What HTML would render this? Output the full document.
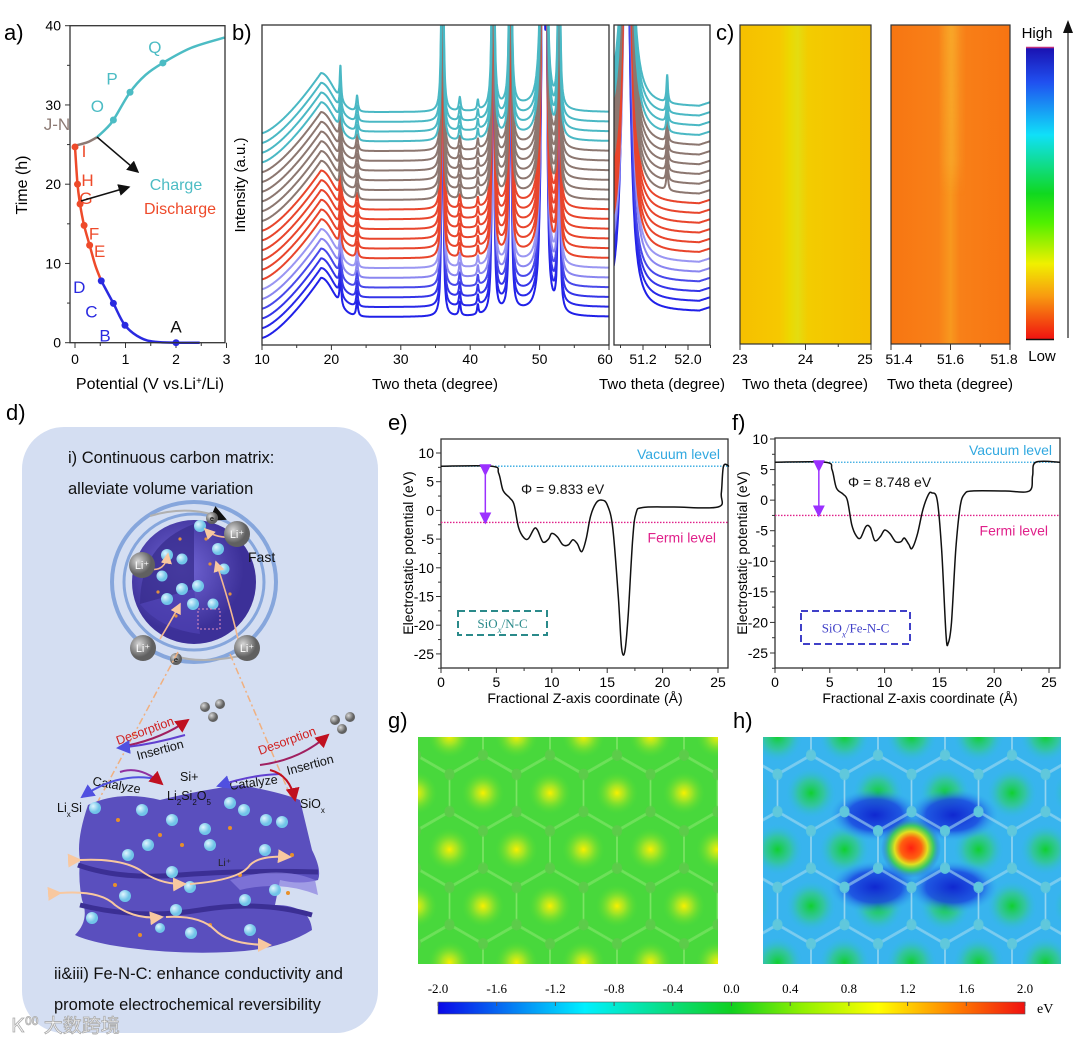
<!DOCTYPE html>
<html><head><meta charset="utf-8">
<style>
html,body{margin:0;padding:0;background:#fff;}
svg{display:block;font-family:"Liberation Sans",Arial,sans-serif;}
</style></head>
<body>
<svg id="fig" width="1080" height="1045" viewBox="0 0 1080 1045" xmlns="http://www.w3.org/2000/svg">
<defs>
  <clipPath id="clipB1"><rect x="262" y="25" width="347" height="320"/></clipPath>
  <clipPath id="clipB2"><rect x="614" y="25" width="96" height="320"/></clipPath>
  <linearGradient id="hm1" x1="0" x2="1" y1="0" y2="0">
    <stop offset="0" stop-color="#f5c000"/><stop offset="0.3" stop-color="#f6c800"/>
    <stop offset="0.38" stop-color="#ecd800"/><stop offset="0.44" stop-color="#e4dc10"/>
    <stop offset="0.52" stop-color="#f3cc00"/><stop offset="1" stop-color="#f5bf00"/>
  </linearGradient>
  <linearGradient id="hm2" x1="0" x2="1" y1="0" y2="0">
    <stop offset="0" stop-color="#f77612"/><stop offset="0.4" stop-color="#f88018"/>
    <stop offset="0.5" stop-color="#f8981e"/><stop offset="0.58" stop-color="#f88018"/>
    <stop offset="1" stop-color="#f77412"/>
  </linearGradient>
  <linearGradient id="stripeG" x1="0" x2="0" y1="0" y2="1">
    <stop offset="0" stop-color="#f8b030" stop-opacity="0.6"/><stop offset="0.8" stop-color="#f8b030" stop-opacity="0.5"/><stop offset="1" stop-color="#f8b030" stop-opacity="0"/>
  </linearGradient>
  <linearGradient id="stripeH" x1="0" x2="1" y1="0" y2="0">
    <stop offset="0" stop-color="#fff" stop-opacity="0"/><stop offset="0.5" stop-color="#fff" stop-opacity="1"/><stop offset="1" stop-color="#fff" stop-opacity="0"/>
  </linearGradient>
  <mask id="stripeMask"><rect x="938" y="25" width="28" height="200" fill="url(#stripeH)"/></mask>
  <linearGradient id="cbarV" x1="0" x2="0" y1="0" y2="1">
    <stop offset="0" stop-color="#1a10b0"/><stop offset="0.12" stop-color="#2050f0"/>
    <stop offset="0.3" stop-color="#10e0f8"/><stop offset="0.5" stop-color="#10d820"/>
    <stop offset="0.6" stop-color="#50f000"/><stop offset="0.74" stop-color="#f0f000"/>
    <stop offset="0.85" stop-color="#f89a10"/><stop offset="1" stop-color="#f01010"/>
  </linearGradient>
  <linearGradient id="cbarH" x1="0" x2="1" y1="0" y2="0">
    <stop offset="0" stop-color="#0a08e8"/><stop offset="0.25" stop-color="#00f0ff"/>
    <stop offset="0.5" stop-color="#10d020"/><stop offset="0.62" stop-color="#90f000"/>
    <stop offset="0.75" stop-color="#ffff00"/><stop offset="0.88" stop-color="#ff8000"/>
    <stop offset="1" stop-color="#f01010"/>
  </linearGradient>
  <radialGradient id="ySpot"><stop offset="0" stop-color="#f8f000"/><stop offset="0.35" stop-color="#b8e820" stop-opacity="0.8"/><stop offset="1" stop-color="#48dc38" stop-opacity="0"/></radialGradient>
  <radialGradient id="gSpot"><stop offset="0" stop-color="#10d030"/><stop offset="0.5" stop-color="#30cc80" stop-opacity="0.7"/><stop offset="1" stop-color="#30b8f0" stop-opacity="0"/></radialGradient>
  <radialGradient id="rSpot"><stop offset="0" stop-color="#ff2010"/><stop offset="0.35" stop-color="#ff6010"/><stop offset="0.55" stop-color="#e0e020"/><stop offset="0.75" stop-color="#40d040" stop-opacity="0.8"/><stop offset="1" stop-color="#2050e0" stop-opacity="0"/></radialGradient>
  <radialGradient id="bSpot"><stop offset="0" stop-color="#1028d0"/><stop offset="0.6" stop-color="#1a48e0" stop-opacity="0.85"/><stop offset="1" stop-color="#30a0f0" stop-opacity="0"/></radialGradient>
  <radialGradient id="sphereG" cx="0.4" cy="0.4"><stop offset="0" stop-color="#7468d8"/><stop offset="1" stop-color="#3c3098"/></radialGradient>
  <radialGradient id="liBall" cx="0.35" cy="0.35"><stop offset="0" stop-color="#d8d8d8"/><stop offset="1" stop-color="#606060"/></radialGradient>
  <radialGradient id="cyBall" cx="0.35" cy="0.35"><stop offset="0" stop-color="#e0f6ff"/><stop offset="1" stop-color="#70c4e8"/></radialGradient>
  <marker id="arrK" markerWidth="8" markerHeight="8" refX="7" refY="4" orient="auto"><path d="M0,0 L8,4 L0,8 Z" fill="#111"/></marker>
  <marker id="arrP" markerWidth="8" markerHeight="8" refX="4" refY="4" orient="auto"><path d="M0,0 L8,4 L0,8 Z" fill="#9b30ff"/></marker>
  <marker id="arrO" markerWidth="7" markerHeight="7" refX="6" refY="3.5" orient="auto"><path d="M0,0 L7,3.5 L0,7 Z" fill="#f8c8a0"/></marker>
  <marker id="arrR" markerWidth="7" markerHeight="7" refX="6" refY="3.5" orient="auto"><path d="M0,0 L7,3.5 L0,7 Z" fill="#c01020"/></marker>
  <marker id="arrV" markerWidth="7" markerHeight="7" refX="6" refY="3.5" orient="auto"><path d="M0,0 L7,3.5 L0,7 Z" fill="#5050e0"/></marker>
</defs>

<g id="panelA">
  <text x="4" y="40" font-size="22">a)</text>
  <text transform="translate(27,185) rotate(-90)" font-size="16" text-anchor="middle">Time (h)</text>
  <text x="150" y="389" font-size="16" text-anchor="middle">Potential (V vs.Li<tspan baseline-shift="super" font-size="10">+</tspan>/Li)</text>
  <g id="aMarks"></g>
  <rect x="70" y="25.7" width="155" height="317" fill="none" stroke="#333" stroke-width="1.3"/>
</g>

<g id="panelB">
  <text x="232" y="40" font-size="22">b)</text>
  <text transform="translate(245,185) rotate(-90)" font-size="15" text-anchor="middle">Intensity (a.u.)</text>
  <text x="435" y="389" font-size="15" text-anchor="middle">Two theta (degree)</text>
  <text x="662" y="389" font-size="15" text-anchor="middle">Two theta (degree)</text>
  <g id="bMarks"></g>
  <rect x="262" y="25" width="347" height="320" fill="none" stroke="#333" stroke-width="1.3"/>
  <rect x="614" y="25" width="96" height="320" fill="none" stroke="#333" stroke-width="1.3"/>
</g>

<g id="panelC">
  <text x="716" y="40" font-size="22">c)</text>
  <rect x="740" y="25" width="131" height="319" fill="url(#hm1)" stroke="#333" stroke-width="1.2"/>
  <rect x="891" y="25" width="119" height="319" fill="url(#hm2)" stroke="#333" stroke-width="1.2"/>
  <rect x="938" y="26" width="28" height="170" fill="url(#stripeG)" mask="url(#stripeMask)"/>
  <g id="cTicks"></g>
  <text x="805" y="389" font-size="15" text-anchor="middle">Two theta (degree)</text>
  <text x="950" y="389" font-size="15" text-anchor="middle">Two theta (degree)</text>
  <rect x="1026" y="47" width="28" height="293" fill="url(#cbarV)"/>
  <line x1="1026" y1="47.5" x2="1054" y2="47.5" stroke="#c03080" stroke-width="1.5"/>
  <line x1="1026" y1="339.5" x2="1054" y2="339.5" stroke="#111" stroke-width="1.5"/>
  <text x="1037" y="38" font-size="15" text-anchor="middle">High</text>
  <text x="1042" y="361" font-size="15" text-anchor="middle">Low</text>
  <line x1="1068" y1="338" x2="1068" y2="30" stroke="#222" stroke-width="1.2"/>
  <path d="M1063,33 L1068,20 L1073,33 Z" fill="#111"/>
</g>

<g id="panelD">
  <text x="6" y="420" font-size="22">d)</text>
  <rect x="22" y="427" width="356" height="606" rx="42" fill="#d4def2"/>
  <text x="68" y="463" font-size="16.5" fill="#111">i) Continuous carbon matrix:</text>
  <text x="68" y="494" font-size="16.5" fill="#111">alleviate volume variation</text>
  <g transform="translate(0,4)">
    <ellipse cx="194" cy="578" rx="82" ry="80" fill="none" stroke="#86a6dc" stroke-width="4"/>
    <ellipse cx="194" cy="578" rx="70" ry="68" fill="none" stroke="#86a6dc" stroke-width="3"/>
    <ellipse cx="194" cy="578" rx="62" ry="62" fill="url(#sphereG)"/>
    <path d="M194,520 L194,585 L140,600 Q140,540 194,520 Z" fill="#3a2e90" opacity="0.8"/>
    <path d="M194,585 L140,600 Q160,625 200,630 Z" fill="#4c40b0" opacity="0.8"/>
    <g fill="url(#cyBall)">
      <circle cx="200" cy="522" r="6"/><circle cx="167" cy="551" r="6"/><circle cx="182" cy="555" r="5.5"/>
      <circle cx="162" cy="572" r="5.5"/><circle cx="218" cy="545" r="6"/><circle cx="224" cy="565" r="5.5"/>
      <circle cx="182" cy="585" r="6"/><circle cx="198" cy="582" r="6"/><circle cx="167" cy="595" r="6"/>
      <circle cx="193" cy="600" r="6"/><circle cx="213" cy="600" r="5.5"/>
    </g>
    <g fill="#e09040"><circle cx="180" cy="535" r="1.6"/><circle cx="206" cy="535" r="1.6"/><circle cx="210" cy="560" r="1.6"/><circle cx="158" cy="588" r="1.6"/><circle cx="230" cy="590" r="1.6"/><circle cx="176" cy="612" r="1.6"/></g>
    <rect x="198" y="605" width="22" height="20" fill="none" stroke="#e090c0" stroke-dasharray="2,2"/>
    <g fill="none" stroke="#f3b890" stroke-width="1.6">
      <path d="M150,565 Q165,568 168,550" marker-end="url(#arrO)"/>
      <path d="M236,533 Q215,535 205,525" marker-end="url(#arrO)"/>
      <path d="M160,635 Q175,610 180,600" marker-end="url(#arrO)"/>
      <path d="M238,635 Q230,600 216,558" marker-end="url(#arrO)"/>
    </g>
    <path d="M150,512 Q190,500 225,515" fill="none" stroke="#b0b0b0" stroke-width="2" marker-end="url(#arrK)"/>
    <path d="M240,652 Q200,660 175,652" fill="none" stroke="#b0b0b0" stroke-width="2"/>
    <circle cx="212" cy="514" r="6" fill="url(#liBall)"/><text x="212" y="517" font-size="7" text-anchor="middle">e</text>
    <circle cx="176" cy="655" r="6" fill="url(#liBall)"/><text x="176" y="658" font-size="7" text-anchor="middle">e</text>
    <g font-size="11" text-anchor="middle" fill="#fff">
      <circle cx="142" cy="561" r="13" fill="url(#liBall)"/><text x="142" y="565">Li⁺</text>
      <circle cx="237" cy="530" r="13" fill="url(#liBall)"/><text x="237" y="534">Li⁺</text>
      <circle cx="143" cy="644" r="13" fill="url(#liBall)"/><text x="143" y="648">Li⁺</text>
      <circle cx="247" cy="644" r="13" fill="url(#liBall)"/><text x="247" y="648">Li⁺</text>
    </g>
    <text x="248" y="558" font-size="14" fill="#111">Fast</text>
  </g>
  <g stroke="#f0b080" stroke-width="1.5" stroke-dasharray="7,3,2,3" fill="none">
    <line x1="178" y1="652" x2="88" y2="820"/><line x1="230" y1="654" x2="305" y2="830"/>
  </g>
  <g>
    <path d="M88,805 Q120,790 160,800 Q200,790 240,785 Q280,792 300,800 L312,850 Q322,870 318,880 Q300,885 280,880 L275,905 Q310,905 312,930 Q280,950 230,952 Q170,955 110,945 Q85,940 75,935 Q90,920 82,900 Q78,880 80,860 Q76,840 88,805 Z" fill="#5a4fbe"/>
    <path d="M78,865 Q120,880 180,875 Q240,870 318,872" fill="none" stroke="#3b2f94" stroke-width="5"/>
    <path d="M80,905 Q140,920 200,910 Q260,900 312,915" fill="none" stroke="#3b2f94" stroke-width="5"/>
    <path d="M230,880 Q280,865 315,880 L318,895 Q280,880 240,890 Z" fill="#8a80e0" opacity="0.7"/>
    <g fill="url(#cyBall)">
      <circle cx="95" cy="808" r="6"/><circle cx="142" cy="810" r="6"/><circle cx="172" cy="820" r="6"/><circle cx="205" cy="829" r="6"/>
      <circle cx="230" cy="803" r="6"/><circle cx="244" cy="810" r="6"/><circle cx="266" cy="820" r="6"/><circle cx="282" cy="822" r="6"/>
      <circle cx="148" cy="845" r="6"/><circle cx="128" cy="855" r="6"/><circle cx="172" cy="872" r="6"/><circle cx="210" cy="845" r="6"/>
      <circle cx="265" cy="850" r="6"/><circle cx="190" cy="887" r="6"/><circle cx="125" cy="896" r="6"/><circle cx="245" cy="900" r="6"/>
      <circle cx="275" cy="890" r="6"/><circle cx="176" cy="910" r="6"/><circle cx="92" cy="918" r="6"/><circle cx="191" cy="933" r="6"/><circle cx="160" cy="928" r="5"/><circle cx="250" cy="930" r="6"/>
    </g>
    <g fill="#e8902a">
      <circle cx="118" cy="820" r="2"/><circle cx="160" cy="835" r="2"/><circle cx="230" cy="828" r="2"/><circle cx="182" cy="845" r="2"/>
      <circle cx="292" cy="855" r="2"/><circle cx="115" cy="885" r="2"/><circle cx="240" cy="875" r="2"/><circle cx="288" cy="893" r="2"/><circle cx="140" cy="935" r="2"/><circle cx="210" cy="925" r="2"/>
    </g>
    <g fill="none" stroke="#f8c8a0" stroke-width="2">
      <path d="M80,860 Q120,858 140,870 Q160,885 185,884" marker-end="url(#arrO)" marker-start="url(#arrO)"/>
      <path d="M190,884 Q240,880 250,865 Q260,855 290,857" marker-end="url(#arrO)"/>
      <path d="M60,893 Q100,890 115,905 Q135,920 162,917" marker-start="url(#arrO)" marker-end="url(#arrO)"/>
      <path d="M166,917 Q200,915 215,930 Q230,945 270,945" marker-end="url(#arrO)"/>
    </g>
    <text x="218" y="866" font-size="10" fill="#222">Li⁺</text>
  </g>
  <g font-size="12.5" fill="#111">
    <text x="57" y="812">Li<tspan font-size="8" baseline-shift="sub">x</tspan>Si</text>
    <text x="180" y="781">Si+</text>
    <text x="167" y="800">Li<tspan font-size="8" baseline-shift="sub">2</tspan>Si<tspan font-size="8" baseline-shift="sub">2</tspan>O<tspan font-size="8" baseline-shift="sub">5</tspan></text>
    <text x="300" y="808">SiO<tspan font-size="8" baseline-shift="sub">x</tspan></text>
    <text transform="translate(92,785) rotate(10)">Catalyze</text>
    <text transform="translate(230,790) rotate(-8)">Catalyze</text>
    <text transform="translate(138,760) rotate(-15)">Insertion</text>
    <text transform="translate(288,775) rotate(-15)">Insertion</text>
    <text transform="translate(118,745) rotate(-20)" fill="#d02020">Desorption</text>
    <text transform="translate(260,755) rotate(-20)" fill="#d02020">Desorption</text>
  </g>
  <g fill="none" stroke-width="2">
    <path d="M160,780 Q120,770 82,797" stroke="#5050e0" marker-end="url(#arrV)"/>
    <path d="M120,772 Q140,765 162,784" stroke="#9030a0" marker-end="url(#arrR)"/>
    <path d="M120,747 Q160,740 188,720" stroke="#a02060" marker-end="url(#arrR)"/>
    <path d="M185,735 Q150,745 118,748" stroke="#6040d0" marker-end="url(#arrV)"/>
    <path d="M280,774 Q250,775 218,786" stroke="#6040d0" marker-end="url(#arrV)"/>
    <path d="M270,770 Q290,775 295,800" stroke="#c01020" marker-end="url(#arrR)"/>
    <path d="M260,765 Q300,760 328,735" stroke="#a02060" marker-end="url(#arrR)"/>
  </g>
  <g fill="url(#liBall)"><circle cx="205" cy="707" r="5"/><circle cx="220" cy="704" r="5"/><circle cx="213" cy="717" r="5"/><circle cx="335" cy="720" r="5"/><circle cx="350" cy="717" r="5"/><circle cx="342" cy="729" r="5"/></g>
  <text x="54" y="979" font-size="16.5" fill="#111">ii&amp;iii) Fe-N-C: enhance conductivity and</text>
  <text x="54" y="1010" font-size="16.5" fill="#111">promote electrochemical reversibility</text>
  <text x="12" y="1032" font-size="19" fill="#fff" stroke="#aaa" stroke-width="0.8" font-family="'Liberation Sans','Noto Sans CJK SC',sans-serif">Ꮶ⁰⁰ 大数跨境</text>
</g>

<g id="panelE">
  <text x="388" y="430" font-size="22">e)</text>
  <text transform="translate(413,553) rotate(-90)" font-size="14" text-anchor="middle">Electrostatic potential (eV)</text>
  <text x="585" y="703" font-size="14" text-anchor="middle">Fractional Z-axis coordinate (Å)</text>
  <g id="eMarks"></g>
</g>
<g id="panelF">
  <text x="732" y="430" font-size="22">f)</text>
  <text transform="translate(747,553) rotate(-90)" font-size="14" text-anchor="middle">Electrostatic potential (eV)</text>
  <text x="920" y="703" font-size="14" text-anchor="middle">Fractional Z-axis coordinate (Å)</text>
  <g id="fMarks"></g>
</g>

<g id="panelG">
  <text x="388" y="728" font-size="22">g)</text>
  <svg x="418" y="737" width="300" height="227" overflow="hidden"><g id="gMap"></g></svg>
</g>
<g id="panelH">
  <text x="733" y="728" font-size="22">h)</text>
  <svg x="763" y="737" width="298" height="227" overflow="hidden"><g id="hMap"></g></svg>
</g>
<g id="cbar2">
  <rect x="438" y="1002" width="587" height="12" fill="url(#cbarH)" stroke="#555" stroke-width="0.6"/>
  <g id="cbarTicks"></g>
  <text x="1037" y="1013" font-size="14" font-family="'Liberation Serif',serif">eV</text>
</g>
</svg>

<script>
const NS = "http://www.w3.org/2000/svg";
function mk(tag, attrs, parent){const e=document.createElementNS(NS,tag);for(const k in attrs)e.setAttribute(k,attrs[k]);parent.appendChild(e);return e;}
function smooth(pts){let d="M"+pts[0][0].toFixed(1)+","+pts[0][1].toFixed(1);
  for(let i=0;i<pts.length-1;i++){const p0=pts[Math.max(0,i-1)],p1=pts[i],p2=pts[i+1],p3=pts[Math.min(pts.length-1,i+2)];
    const c1=[p1[0]+(p2[0]-p0[0])/6,p1[1]+(p2[1]-p0[1])/6],c2=[p2[0]-(p3[0]-p1[0])/6,p2[1]-(p3[1]-p1[1])/6];
    d+=" C"+c1[0].toFixed(1)+","+c1[1].toFixed(1)+" "+c2[0].toFixed(1)+","+c2[1].toFixed(1)+" "+p2[0].toFixed(1)+","+p2[1].toFixed(1);}
  return d;}

/* ---------- Panel a data ---------- */
const aXTicks=[0,1,2,3];
const aYTicks=[0,10,20,30,40];
const blueV=[0.52,0.76,0.99,1.3,1.6,2.0,2.47];
const blueT=[7.8,4.96,2.2,0.6,0.1,0,0];
const redV=[0.0,0.05,0.1,0.18,0.29,0.4,0.52];
const redT=[24.7,20.0,17.5,14.8,12.3,9.8,7.8];
const brownV=[0.03,0.25,0.43];
const brownT=[24.9,25.3,25.9];
const tealV=[0.43,0.6,0.76,1.09,1.4,1.74,2.3,2.96];
const tealT=[25.9,26.9,28.1,31.6,33.8,35.3,37.2,38.5];
const ptLabels=["A","B","C","D","E","F","G","H","I","O","P","Q"];
const ptV=[2.0,0.99,0.76,0.52,0.29,0.18,0.1,0.05,0.0,0.76,1.09,1.74];
const ptT=[0,2.2,4.96,7.8,12.3,14.8,17.5,20.0,24.7,28.1,31.6,35.3];
(function(){
  const g=document.getElementById("aMarks");
  const X=v=>75+v*50.5, Y=t=>342.7-t*7.925;
  aXTicks.forEach(v=>{mk("line",{x1:X(v),x2:X(v),y1:342.7,y2:348,stroke:"#333"},g);
    const t=mk("text",{x:X(v),y:364,"font-size":14,"text-anchor":"middle"},g);t.textContent=v;
    
    
    if(v<3)mk("line",{x1:X(v+0.5),x2:X(v+0.5),y1:342.7,y2:346,stroke:"#333"},g);});
  aYTicks.forEach(v=>{mk("line",{x1:65,x2:70,y1:Y(v),y2:Y(v),stroke:"#333"},g);
    const t=mk("text",{x:61,y:Y(v)+5,"font-size":14,"text-anchor":"end"},g);t.textContent=v;
    
    
    if(v<40)mk("line",{x1:67,x2:70,y1:Y(v+5),y2:Y(v+5),stroke:"#333"},g);});
  const series=[[blueV,blueT,"#2a2ae0","discharge-curve-low"],[redV,redT,"#ee4a2a","discharge-curve"],[brownV,brownT,"#8c7a74","transition-curve"],[tealV,tealT,"#4cbcc4","charge-curve"]];
  series.forEach(s=>{const p=mk("path",{d:smooth(s[0].map((v,i)=>[X(v),Y(s[1][i])])),fill:"none",stroke:s[2],"stroke-width":2.5},g);
    
    });
  const lab={A:[0,18,"#111"],B:[-20,16,"#2a2ae0"],C:[-22,14,"#2a2ae0"],D:[-22,12,"#2a2ae0"],E:[10,12,"#ee4a2a"],F:[10,14,"#ee4a2a"],G:[6,0,"#ee4a2a"],H:[10,2,"#ee4a2a"],I:[9,10,"#ee4a2a"],O:[-16,-8,"#4cbcc4"],P:[-18,-8,"#4cbcc4"],Q:[-8,-10,"#4cbcc4"]};
  ptLabels.forEach((L,i)=>{const cx=X(ptV[i]),cy=Y(ptT[i]);const col=lab[L][2];
    const c=mk("circle",{cx:cx,cy:cy,r:3.5,fill:L==="A"?"#2a2ae0":col},g);
    
    
    const t=mk("text",{x:cx+lab[L][0],y:cy+lab[L][1]-(L==="A"?28:0),"font-size":17,fill:col,"text-anchor":"middle"},g);t.textContent=L;
    
    });
  let t=mk("text",{x:57,y:130,"font-size":17,fill:"#8c7a74","text-anchor":"middle"},g);t.textContent="J-N";
  
  
  mk("line",{x1:97,y1:137,x2:138,y2:172,stroke:"#111","stroke-width":1.5,"marker-end":"url(#arrK)"},g);
  mk("line",{x1:81,y1:201,x2:129,y2:187,stroke:"#111","stroke-width":1.5,"marker-end":"url(#arrK)"},g);
  t=mk("text",{x:176,y:190,"font-size":16,fill:"#4cbcc4","text-anchor":"middle"},g);t.textContent="Charge";
  
  
  t=mk("text",{x:180,y:214,"font-size":16,fill:"#ee4a2a","text-anchor":"middle"},g);t.textContent="Discharge";
  
  
})();

/* ---------- Panel b data ---------- */
const bXTicks=[10,20,30,40,50,60];
const bX2Ticks=[51.2,52.0];
const curveColors=["#2020e8","#2828e8","#3535e8","#4848ea","#8a86f0","#9a96f2","#e8452c","#e8452c","#e8452c","#e8452c","#e8452c","#e8452c","#8c7770","#8c7770","#8c7770","#8c7770","#8c7770","#8c7770","#4ab8c4","#4ab8c4","#4ab8c4","#4ab8c4"];
const curveOffsets=[29,38.8,48.5,58.3,68,77.8,87.6,97.3,107,116.8,126.6,136.3,146,155.8,165.6,175.3,185,194.8,204.6,214.3,224,233.8];
const peakPos=[21.3,23.7,36.0,38.5,41.1,43.3,45.8,50.5,51.0,52.8];
const peakHeight=[35,16,500,14,10,500,500,500,300,500];
const peakWidth=[0.12,0.15,0.1,0.15,0.12,0.12,0.12,0.25,0.12,0.1];
const zoomPeakPos=[50.92,51.63];
const zoomPeakHeight=[500,28];
const zoomPeakWidth=[0.07,0.015];
(function(){
  const g=document.getElementById("bMarks");
  const X=t=>262+(t-10)*6.94, Y=v=>346-v;
  const X2=t=>643+(t-51.2)*56.25;
  bXTicks.forEach(v=>{mk("line",{x1:X(v),x2:X(v),y1:345,y2:350,stroke:"#333"},g);
    const t=mk("text",{x:X(v)-(v===60?4:0),y:364,"font-size":14,"text-anchor":"middle"},g);t.textContent=v;
    
    
    if(v<60)mk("line",{x1:X(v+5),x2:X(v+5),y1:345,y2:348,stroke:"#333"},g);});
  bX2Ticks.forEach(v=>{mk("line",{x1:X2(v),x2:X2(v),y1:345,y2:350,stroke:"#333"},g);
    const t=mk("text",{x:X2(v),y:364,"font-size":14,"text-anchor":"middle"},g);t.textContent=v.toFixed(1);
    
    });
  [50.8,51.6,52.4].forEach(v=>mk("line",{x1:X2(v),x2:X2(v),y1:345,y2:348,stroke:"#333"},g));
  const prof=t=>{let b;
    if(t<18.5)b=-21+60*Math.pow((t-10)/8.5,1.4);else b=39*Math.exp(-Math.pow((t-18.5)/2.6,2));
    b+=5*Math.exp(-Math.pow((t-47)/4,2));
    peakPos.forEach((p,i)=>{b+=peakHeight[i]/(1+Math.pow((t-p)/peakWidth[i],2));});
    return b;};
  const g1=mk("g",{"clip-path":"url(#clipB1)"},g);
  const g2=mk("g",{"clip-path":"url(#clipB2)"},g);
  curveOffsets.forEach((off,ci)=>{
    let d="";for(let t=10;t<=60.001;t+=0.04){d+=(d?"L":"M")+X(t).toFixed(1)+","+Y(off+prof(t)).toFixed(1);}
    const p=mk("path",{d:d,fill:"none",stroke:curveColors[ci],"stroke-width":2,"stroke-linejoin":"round"},g1);
    
    
    let d2="";const shift=ci<4?-0.02:0;const small=ci>=12?zoomPeakHeight[1]:0;
    for(let t=50.68;t<=52.4;t+=0.005){let b=5+zoomPeakHeight[0]/(1+Math.pow((t-zoomPeakPos[0]-shift)/zoomPeakWidth[0],2))+small/(1+Math.pow((t-zoomPeakPos[1])/zoomPeakWidth[1],2))+(t>52.2?(t-52.2)*20:0);
      d2+=(d2?"L":"M")+X2(t).toFixed(1)+","+Y(off+b).toFixed(1);}
    const p2=mk("path",{d:d2,fill:"none",stroke:curveColors[ci],"stroke-width":2},g2);
    
    
  });
})();

/* ---------- Panel c ticks ---------- */
const c1Ticks=[23,24,25];
const c2Ticks=[51.4,51.6,51.8];
(function(){
  const g=document.getElementById("cTicks");
  c1Ticks.forEach(v=>{const x=740+(v-23)*65.5;mk("line",{x1:x,x2:x,y1:344,y2:350,stroke:"#333"},g);
    const t=mk("text",{x:x-(v===25?6:0),y:364,"font-size":14,"text-anchor":"middle"},g);t.textContent=v;
    
    });
  [23.5,24.5].forEach(v=>{const x=740+(v-23)*65.5;mk("line",{x1:x,x2:x,y1:344,y2:347,stroke:"#333"},g);});
  c2Ticks.forEach(v=>{const x=891+(v-51.4)*297.5;mk("line",{x1:x,x2:x,y1:344,y2:350,stroke:"#333"},g);
    const t=mk("text",{x:x+(v===51.4?8:0)-(v===51.8?6:0),y:364,"font-size":14,"text-anchor":"middle"},g);t.textContent=v.toFixed(1);
    
    });
  [51.5,51.7].forEach(v=>{const x=891+(v-51.4)*297.5;mk("line",{x1:x,x2:x,y1:344,y2:347,stroke:"#333"},g);});
})();

/* ---------- Panels e & f data ---------- */
const eZ=[0,4.6,5.2,5.6,6.2,6.6,7,7.5,7.9,8.4,8.7,9.2,9.7,10,10.5,11,11.5,11.9,12.3,12.7,13.1,13.5,14,14.5,15,15.5,16,16.3,16.6,16.9,17.3,17.6,18.2,21,25,25.3,25.5,26];
const eV=[7.7,7.7,6.5,3.5,2.2,1,-3,-4.8,-4.9,-3.2,-3.4,-5.5,-5,-4,-4.6,-6,-6,-5.1,-5.8,-7.2,-5,-1,1.3,1.8,1,-3,-15,-24,-24.5,-18,-5,-0.5,0.5,0.6,0.6,3,7.7,7.7];
const fZ=[0,4.6,5.2,5.6,6.2,6.6,7,7.4,7.8,8.3,8.7,9.1,9.6,10,10.5,11,11.5,11.8,12.2,12.5,13,13.5,14,14.3,14.8,15.2,15.6,15.8,16.1,16.5,16.9,17.3,18,21,23.2,23.5,23.8,26];
const fV=[6.2,6.2,5,2,1,0,-4,-5.8,-6.2,-4.3,-4.5,-6.6,-6,-4.9,-5.5,-6.8,-6.8,-6.2,-7.2,-7.9,-5.5,-1.5,0.9,1.2,0,-8,-22,-23.4,-20,-8,-1,1,1.5,1.5,1.5,4,6.2,6.2];
const efXTicks=[0,5,10,15,20,25];
const efYTicks=[10,5,0,-5,-10,-15,-20,-25];
const eLevels=[7.7,-2.1], fLevels=[6.2,-2.5];
function drawEF(id,cfg,Z,V,lev,phi,box){
  const g=document.getElementById(id);
  const X=z=>cfg.x0+z*cfg.sx, Y=v=>cfg.y10+(10-v)*cfg.sy;
  mk("rect",{x:cfg.L,y:cfg.T,width:cfg.R-cfg.L,height:cfg.B-cfg.T,fill:"none",stroke:"#333","stroke-width":1.3},g);
  efXTicks.forEach(v=>{mk("line",{x1:X(v),x2:X(v),y1:cfg.B,y2:cfg.B+5,stroke:"#333"},g);
    const t=mk("text",{x:X(v),y:cfg.B+19,"font-size":14,"text-anchor":"middle"},g);t.textContent=v;
    
    
    if(v<25)mk("line",{x1:X(v+2.5),x2:X(v+2.5),y1:cfg.B,y2:cfg.B+3,stroke:"#333"},g);});
  efYTicks.forEach(v=>{mk("line",{x1:cfg.L-5,x2:cfg.L,y1:Y(v),y2:Y(v),stroke:"#333"},g);
    const t=mk("text",{x:cfg.L-7,y:Y(v)+5,"font-size":14,"text-anchor":"end"},g);t.textContent=v;
    
    
    mk("line",{x1:cfg.L-3,x2:cfg.L,y1:Y(v-2.5),y2:Y(v-2.5),stroke:"#333"},g);});
  let l=mk("line",{x1:cfg.L,x2:cfg.R,y1:Y(lev[0]),y2:Y(lev[0]),stroke:"#30a8e0","stroke-width":1.3,"stroke-dasharray":"1.5,1.5"},g);
  
  
  l=mk("line",{x1:cfg.L,x2:cfg.R,y1:Y(lev[1]),y2:Y(lev[1]),stroke:"#e0208a","stroke-width":1.3,"stroke-dasharray":"1.5,1.5"},g);
  
  
  const p=mk("path",{d:smooth(Z.map((z,i)=>[X(z),Y(V[i])])),fill:"none",stroke:"#111","stroke-width":1.5},g);
  
  
  l=mk("line",{x1:X(4),x2:X(4),y1:Y(lev[0])+4,y2:Y(lev[1])-4,stroke:"#9b30ff","stroke-width":1.5,"marker-end":"url(#arrP)","marker-start":"url(#arrP)"},g);
  
  
  let t=mk("text",{x:cfg.R-8,y:Y(lev[0])-7,"font-size":14,fill:"#30a8e0","text-anchor":"end"},g);t.textContent="Vacuum level";
  
  
  t=mk("text",{x:cfg.R-12,y:Y(lev[1])+20,"font-size":14,fill:"#e0208a","text-anchor":"end"},g);t.textContent="Fermi level";
  
  
  t=mk("text",{x:phi[1],y:phi[2],"font-size":14,fill:"#111"},g);t.textContent=phi[0];
  
  
  const r=mk("rect",{x:box.x,y:box.y,width:box.w,height:box.h,fill:"none",stroke:box.c,"stroke-width":2,"stroke-dasharray":"7,4"},g);
  
  
  t=mk("text",{x:box.x+box.w/2,y:box.y+box.h/2+5,"font-size":13,fill:box.c,"text-anchor":"middle","font-family":"'Liberation Serif',serif"},g);
  t.innerHTML=box.label;
  
  
}
drawEF("eMarks",{L:441,R:728,T:439,B:668,x0:441,sx:11.08,y10:453,sy:5.74},eZ,eV,eLevels,["Φ = 9.833 eV",521,494],{x:458,y:611,w:89,h:24,c:"#2a8a8a",label:'SiO<tspan font-style="italic" font-size="9" baseline-shift="sub">x</tspan>/N-C'});
drawEF("fMarks",{L:775,R:1060,T:438,B:668,x0:775,sx:10.96,y10:439,sy:6.114},fZ,fV,fLevels,["Φ = 8.748 eV",848,487],{x:801,y:611,w:109,h:33,c:"#4040c8",label:'SiO<tspan font-style="italic" font-size="9" baseline-shift="sub">x</tspan>/Fe-N-C'});

/* ---------- Panels g, h maps ---------- */
const cbTicks=[-2.0,-1.6,-1.2,-0.8,-0.4,0.0,0.4,0.8,1.2,1.6,2.0];
const hexRows=[-1,0,1,2,3,4];
const hexCols=[-1,0,1,2,3,4,5];
function lattice(gid,bg,spot,spotR,ox,oy,atomFill,bondCol,extra){
  const g=document.getElementById(gid);
  mk("rect",{x:0,y:0,width:300,height:227,fill:bg},g);
  const a=38.7,w=67,hRow=56.5;
  const centers=[];
  hexRows.forEach(r=>hexCols.forEach(c=>{centers.push([ox+c*w+(Math.abs(r)%2?-w/2:0),oy+r*hRow]);}));
  centers.forEach(([cx,cy])=>{const s=mk("circle",{cx:cx,cy:cy,r:spotR,fill:spot},g);
    
    });
  if(extra)extra(g);
  centers.forEach(([cx,cy])=>{let pts=[];for(let k=0;k<6;k++){const an=Math.PI/2+k*Math.PI/3;pts.push((cx+a*Math.cos(an)).toFixed(1)+","+(cy-a*Math.sin(an)).toFixed(1));}
    mk("polygon",{points:pts.join(" "),fill:"none",stroke:bondCol,"stroke-width":1.6,opacity:0.55},g);});
  centers.forEach(([cx,cy])=>{for(let k=0;k<6;k++){const an=Math.PI/2+k*Math.PI/3;
    const at=mk("circle",{cx:cx+a*Math.cos(an),cy:cy-a*Math.sin(an),r:5,fill:atomFill,opacity:0.8},g);
    
    }});
}
lattice("gMap","#48d83c","url(#ySpot)",22,65,56,"#5ccc4a","#88e870",null);
lattice("hMap","#38b4ee","url(#gSpot)",26,48,56,"#60c8dc","#a8dcf0",function(g){
  [[112,78],[190,78],[112,150],[190,150]].forEach(p=>{const b=mk("ellipse",{cx:p[0],cy:p[1],rx:45,ry:26,fill:"url(#bSpot)"},g);
    
    });
  const r=mk("circle",{cx:148,cy:111,r:30,fill:"url(#rSpot)"},g);
  
  
});
(function(){
  const g=document.getElementById("cbarTicks");
  cbTicks.forEach(v=>{const x=438+(v+2)*146.75;
    mk("line",{x1:x,x2:x,y1:1002,y2:1006,stroke:"#555"},g);
    const t=mk("text",{x:x,y:993,"font-size":13,"text-anchor":"middle","font-family":"'Liberation Serif',serif"},g);t.textContent=v.toFixed(1);
    
    });
})();
</script>
</body></html>
